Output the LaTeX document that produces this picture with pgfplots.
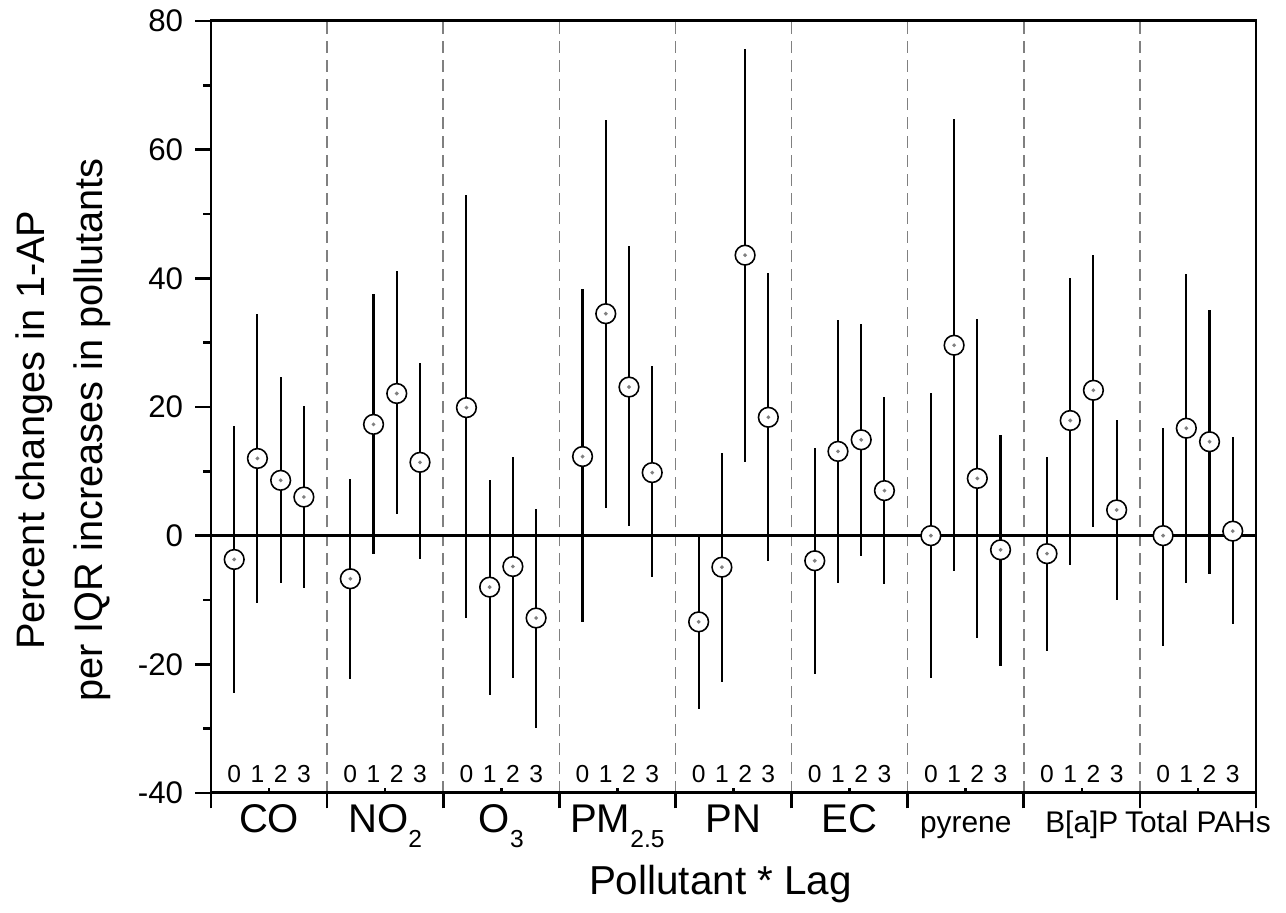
\documentclass[border=0pt]{standalone}
\usepackage{fontspec}
\setmainfont{Liberation Sans}
\usepackage{pgfplots}
\pgfplotsset{compat=1.18}
\usepackage{pgfplotstable}

% subscript as in the original (well below the baseline)
\newcommand\sub[1]{\raisebox{-0.15cm}{\fontsize{7}{7}\selectfont #1}}
\newcommand\catsmall{\fontsize{8.5}{9}\selectfont}

% x = 5*group + lag + 1 ; y = estimate ; hi/lo = 95% CI ends
\pgfplotstableread{
x y hi lo
1 -3.7 17.0 -24.4
2 12.0 34.5 -10.4
3 8.6 24.7 -7.4
4 6.0 20.1 -8.2
6 -6.7 8.8 -22.3
7 17.3 37.6 -2.8
8 22.1 41.2 3.4
9 11.4 26.8 -3.7
11 19.9 53.0 -12.8
12 -8.0 8.7 -24.8
13 -4.8 12.2 -22.1
14 -12.8 4.2 -29.9
16 12.3 38.4 -13.4
17 34.5 64.6 4.3
18 23.1 45.0 1.5
19 9.8 26.3 -6.5
21 -13.4 0.0 -26.9
22 -4.9 12.8 -22.7
23 43.6 75.6 11.5
24 18.4 40.9 -3.9
26 -3.9 13.6 -21.5
27 13.1 33.5 -7.3
28 14.9 32.9 -3.2
29 7.0 21.6 -7.5
31 0.0 22.1 -22.1
32 29.6 64.7 -5.5
33 8.9 33.6 -15.9
34 -2.2 15.7 -20.2
36 -2.8 12.3 -18.0
37 17.9 40.1 -4.5
38 22.6 43.6 1.3
39 4.0 17.9 -10.0
41 0.0 16.8 -17.1
42 16.7 40.7 -7.4
43 14.6 35.1 -6.0
44 0.7 15.3 -13.8
}\data

\begin{document}
\begin{tikzpicture}
\begin{axis}[
    scale only axis,
    width=10.45cm, height=7.72cm,
    xmin=0, xmax=45, ymin=-40, ymax=80,
    axis line style={line width=0.85pt},
    every tick/.style={black, line width=0.75pt},
    tick align=outside,
    xtick pos=left, ytick pos=left,
    major tick length=0.155cm, minor tick length=0.075cm,
    xtick={0,5,...,45}, xticklabels={},
    ytick={-40,-20,...,80}, minor y tick num=1,
    xmajorgrids,
    grid style={gray, line width=0.45pt, dash pattern=on 3.4pt off 2pt},
    extra x ticks={2.5,7.5,...,42.5},
    extra x tick labels={CO, NO\sub{2}, O\sub{3}, PM\sub{2.5}, PN, EC,
        {\catsmall pyrene}, {\catsmall B[a]P}, {\catsmall Total PAHs}},
    extra x tick style={grid=none, tick align=inside, major tick length=0.05cm,
        xticklabel style={anchor=base, yshift=-0.40cm, inner sep=0pt,
        font=\fontsize{11.4}{13}\selectfont}},
    yticklabel style={font=\fontsize{8.9}{11}\selectfont},
    /pgf/number format/assume math mode=true,
    ylabel={Percent changes in 1-AP\\per IQR increases in pollutants},
    every axis y label/.style={at={([xshift=-1.475cm]axis description cs:0,0.47)},
        rotate=90, anchor=center, align=center,
        font=\fontsize{11.3}{16.5}\selectfont},
    xlabel={Pollutant * Lag},
    every axis x label/.style={at={([yshift=-1.02cm,xshift=-0.13cm]axis description cs:0.5,0)},
        anchor=base, font=\fontsize{11.5}{13}\selectfont},
]
\coordinate (bl) at (rel axis cs:0,0);
\coordinate (tr) at (rel axis cs:1,1);

\draw[line width=0.85pt] (axis cs:0,0) -- (axis cs:45,0);

\addplot[black, only marks, mark=*, mark size=2.8pt,
    mark options={fill=white, draw=black, line width=0.45pt},
    error bars/.cd, y dir=both, y explicit, error mark=none,
    error bar style={line width=0.6pt, black}]
  table[x=x, y=y,
    y error plus expr=\thisrow{hi}-\thisrow{y},
    y error minus expr=\thisrow{y}-\thisrow{lo}] {\data};

\addplot[only marks, mark=*, mark size=0.3pt, gray, mark options={draw=none}]
  table[x=x, y=y] {\data};

% lag numbers above the bottom axis
\foreach \g in {0,...,8}{
  \foreach \l in {0,...,3}{
    \edef\tmp{\noexpand\node[anchor=base, inner sep=0pt,
      font=\noexpand\fontsize{7}{8}\noexpand\selectfont]
      at (axis cs:\the\numexpr5*\g+\l+1\relax,-38.4) {\l};}
    \tmp
  }
}
\end{axis}
\pgfresetboundingbox
\path ([xshift=-2.11cm,yshift=-1.20cm]bl) rectangle ([xshift=0.30cm,yshift=0.21cm]tr);
\end{tikzpicture}
\end{document}
